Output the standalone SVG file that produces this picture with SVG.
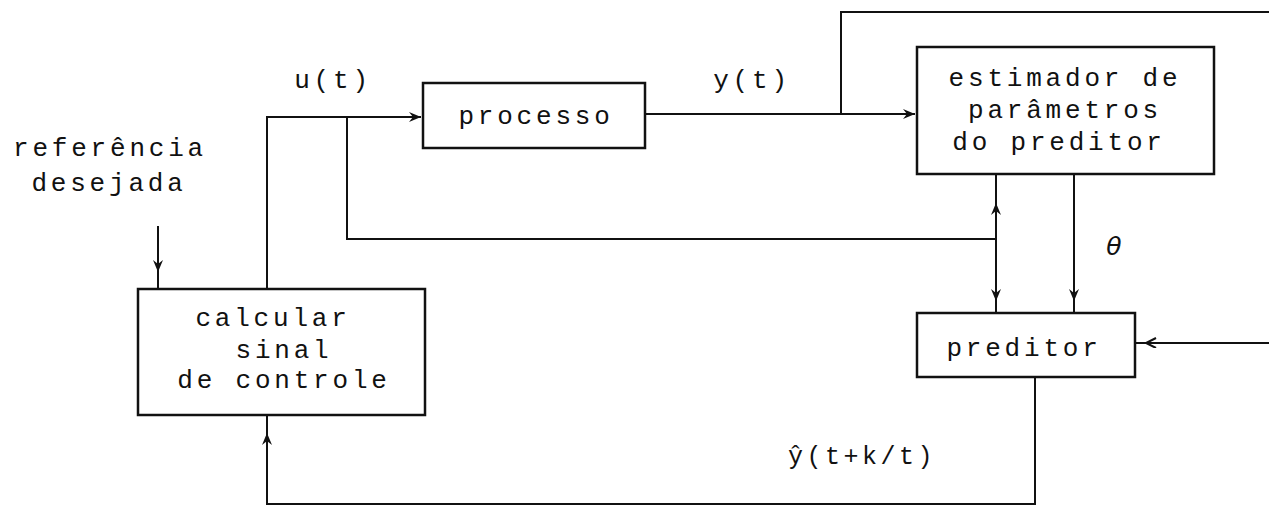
<svg xmlns="http://www.w3.org/2000/svg" width="1269" height="507" viewBox="0 0 1269 507">
<style>
  .box { fill: #fff; stroke: #111; stroke-width: 2.5; }
  .ln { fill: none; stroke: #111; stroke-width: 2; }
  .t { font-family: "Liberation Mono", "DejaVu Sans Mono", monospace; font-size: 26px; letter-spacing: 3.8px; fill: #111; text-anchor: middle; }
  .lbl { font-family: "Liberation Mono", "DejaVu Sans Mono", monospace; font-size: 25px; letter-spacing: 3.5px; fill: #111; }
</style>
<defs>
  <marker id="arr" markerUnits="userSpaceOnUse" markerWidth="14" markerHeight="12" refX="12" refY="5" orient="auto">
    <path d="M0,0 L12,5 L0,10 L4,5 Z" fill="#111"/>
  </marker>
  <marker id="chev" markerUnits="userSpaceOnUse" markerWidth="14" markerHeight="12" refX="11" refY="5" orient="auto">
    <path d="M1,0 L11,5 L1,10" fill="none" stroke="#111" stroke-width="2"/>
  </marker>
</defs>

<g id="connectors">
  <path class="ln" d="M267,289 V117 H421" marker-end="url(#arr)"/>
  <path class="ln" d="M347,117 V239 H996"/>
  <path class="ln" d="M645,114 H915" marker-end="url(#arr)"/>
  <path class="ln" d="M841,114 V12 H1269"/>
  <path class="ln" d="M996,239 V203" marker-end="url(#arr)"/>
  <path class="ln" d="M996,205 V174"/>
  <path class="ln" d="M996,239 V301" marker-end="url(#arr)"/>
  <path class="ln" d="M996,299 V313"/>
  <path class="ln" d="M1074,174 V301" marker-end="url(#arr)"/>
  <path class="ln" d="M1074,299 V313"/>
  <path class="ln" d="M1269,343 H1146" marker-end="url(#chev)"/>
  <path class="ln" d="M1148,343 H1135"/>
  <path class="ln" d="M1035,377 V504 H267 V433" marker-end="url(#arr)"/>
  <path class="ln" d="M267,435 V415"/>
  <path class="ln" d="M158,226 V272" marker-end="url(#arr)"/>
  <path class="ln" d="M158,270 V289"/>
</g>

<g id="processo">
  <rect class="box" x="423" y="83" width="222" height="65"/>
  <text class="t" x="536" y="124">processo</text>
</g>

<g id="estimador">
  <rect class="box" x="917" y="47" width="297" height="127"/>
  <text class="t" x="1065" y="86">estimador de</text>
  <text class="t" x="1065" y="118">parâmetros</text>
  <text class="t" x="1059" y="150">do preditor</text>
</g>

<g id="preditor">
  <rect class="box" x="917" y="313" width="218" height="64"/>
  <text class="t" x="1024" y="356">preditor</text>
</g>

<g id="calcular">
  <rect class="box" x="138" y="289" width="287" height="126"/>
  <text class="t" x="273" y="326">calcular</text>
  <text class="t" x="284" y="358">sinal</text>
  <text class="t" x="284" y="388">de controle</text>
</g>

<g id="labels">
  <text class="t" x="110" y="156">referência</text>
  <text class="t" x="109" y="191">desejada</text>
  <text class="t" x="333" y="88">u(t)</text>
  <text class="t" x="752" y="88">y(t)</text>
  <text x="1114" y="255" style="font-family:'DejaVu Sans',sans-serif;font-style:italic;font-size:25px;fill:#111;text-anchor:middle">θ</text>
  <text class="lbl" x="788" y="464">ŷ(t+k/t)</text>
</g>
</svg>
